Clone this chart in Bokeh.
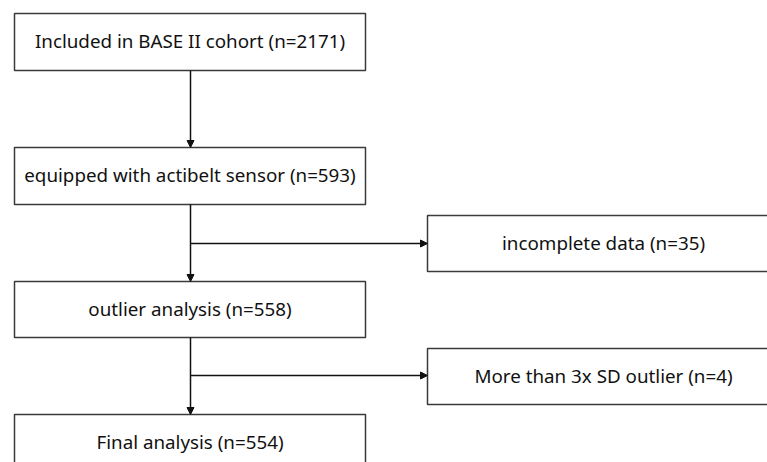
from bokeh.plotting import figure
from bokeh.models import Range1d, ColumnDataSource, Arrow, NormalHead
from bokeh.core.properties import value
from bokeh.embed import file_html
from bokeh.resources import INLINE

# Flowchart content
labels = [
    "Included in BASE II cohort (n=2171)",
    "equipped with actibelt sensor (n=593)",
    "outlier analysis (n=558)",
    "Final analysis (n=554)",
    "incomplete data (n=35)",
    "More than 3x SD outlier (n=4)",
]

# Box layout (page pixel coordinates: left, right, top, bottom)
box_left = [14, 14, 14, 14, 427, 427]
box_right = [365, 365, 365, 365, 779, 779]
box_top = [13, 147, 281, 414, 215, 348]
box_bottom = [70, 204, 337, 471, 271, 404]

# Connections: (x0, y0, x1, y1)
arrows = [
    (190, 70, 190, 147),
    (190, 204, 190, 281),
    (190, 337, 190, 414),
    (190, 243, 427, 243),
    (190, 375, 427, 375),
]

W, H = 767, 462
p = figure(width=W, height=H, output_backend="svg", toolbar_location=None,
           x_range=Range1d(0, W), y_range=Range1d(H, 0),
           min_border=0, outline_line_color=None)
p.axis.visible = False
p.grid.visible = False
p.background_fill_color = "white"

src = ColumnDataSource(dict(
    left=box_left, right=box_right, top=box_top, bottom=box_bottom,
    cx=[(l + r) / 2 for l, r in zip(box_left, box_right)],
    cy=[(t + b) / 2 - 1 for t, b in zip(box_top, box_bottom)],
    label=labels,
))

p.quad(left="left", right="right", top="top", bottom="bottom", source=src,
       fill_color="white", line_color="#3a3a3a", line_width=1.5)

for x0, y0, x1, y1 in arrows:
    p.add_layout(Arrow(x_start=x0, y_start=y0, x_end=x1, y_end=y1,
                       line_color="#111111", line_width=1.5,
                       end=NormalHead(size=7, fill_color="#111111", line_color="#111111", line_width=1)))

p.text(x="cx", y="cy", text="label", source=src, text_align="center",
       text_baseline="middle", text_font=value("Noto Sans"),
       text_font_size="18.8px", text_color="#111111")

open("out.html", "w").write(file_html(p, INLINE))
